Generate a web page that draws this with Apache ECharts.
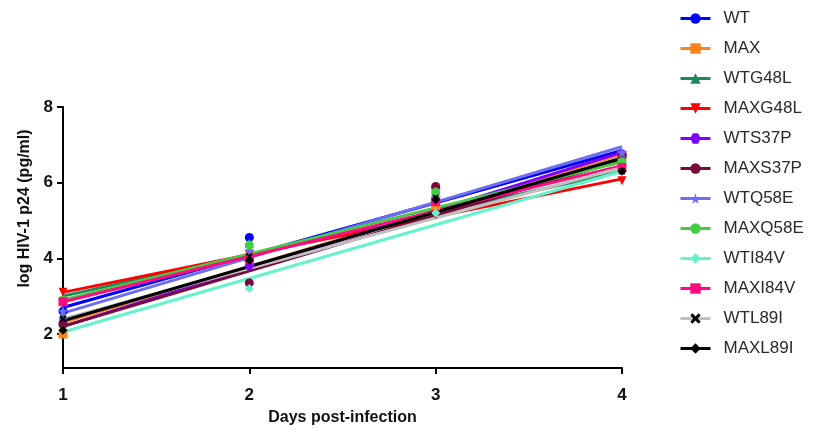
<!DOCTYPE html>
<html>
<head>
<meta charset="utf-8">
<script src="https://cdn.jsdelivr.net/npm/echarts@6/dist/echarts.min.js"></script>
<style>
html,body{margin:0;padding:0;background:#fff;}
#chart{width:817px;height:431px;}
</style>
</head>
<body>
<div id="chart"></div>
<script>
// ---- data ----
const days = [1, 2, 3, 4];
const yTicks = [2, 4, 6, 8];
const seriesNames = ['WT','MAX','WTG48L','MAXG48L','WTS37P','MAXS37P','WTQ58E','MAXQ58E','WTI84V','MAXI84V','WTL89I','MAXL89I'];
// observed values per day (log HIV-1 p24)
const ptsWT      = [2.6, 4.55, 5.5, 6.75];
const ptsMAX     = [2.0, 3.9, 5.4, 6.7];
const ptsWTG48L  = [2.5, 4.4, 5.8, 6.55];
const ptsMAXG48L = [3.1, 4.1, 5.15, 6.05];
const ptsWTS37P  = [2.3, 3.8, 5.85, 6.75];
const ptsMAXS37P = [2.25, 3.35, 5.9, 6.7];
const ptsWTQ58E  = [2.6, 4.2, 5.6, 6.8];
const ptsMAXQ58E = [2.9, 4.35, 5.75, 6.55];
const ptsWTI84V  = [2.1, 3.2, 5.2, 6.35];
const ptsMAXI84V = [2.85, 4.0, 5.5, 6.4];
const ptsWTL89I  = [2.4, 4.05, 5.6, 6.3];
const ptsMAXL89I = [2.1, 3.95, 5.55, 6.3];
// regression line values at day 1 and day 4
const fitStart = [2.7, 2.3, 3.0, 3.1, 2.2, 2.2, 2.55, 2.9, 2.05, 2.85, 2.4, 2.35];
const fitEnd   = [6.85, 6.75, 6.3, 6.1, 6.8, 6.6, 6.95, 6.55, 6.3, 6.45, 6.4, 6.65];
const fitDays = [1, 4];

const allPts = [ptsWT, ptsMAX, ptsWTG48L, ptsMAXG48L, ptsWTS37P, ptsMAXS37P, ptsWTQ58E, ptsMAXQ58E, ptsWTI84V, ptsMAXI84V, ptsWTL89I, ptsMAXL89I];

// ---- styles ----
const lineColors = ['#0000ff','#f7821e','#1e8a5c','#ff0000','#7f00ff','#7a0a3c','#6e6ef0','#44cc44','#66f2cc','#ff0a80','#c0c0c0','#000000'];
const markColors = ['#0000ff','#f7821e','#1e8a5c','#ff0000','#7f00ff','#7a0a3c','#6e6ef0','#44cc44','#66f2cc','#ff0a80','#000000','#000000'];
const hexPath = 'path://M5,0 L15,0 L20,8.66 L15,17.32 L5,17.32 L0,8.66 Z';
const starPath = 'path://M10,0 L12.4,7 L20,7.2 L14,11.8 L16.2,19 L10,14.8 L3.8,19 L6,11.8 L0,7.2 L7.6,7 Z';
const crossPath = 'path://M0,2 L2,0 L5,3 L8,0 L10,2 L7,5 L10,8 L8,10 L5,7 L2,10 L0,8 L3,5 Z';
const symbols = ['circle','rect','triangle','triangle',hexPath,'circle',starPath,'circle','diamond','rect',crossPath,'diamond'];
const rotates = [0,0,0,180,0,0,0,0,0,0,0,0];
const sizes = [9,9,9,9,9,9,11,9,9,9,7,9];

const FONT = '"Liberation Sans", Arial, sans-serif';

const series = [];
seriesNames.forEach((n, i) => {
  series.push({
    name: n, type: 'line',
    data: fitDays.map((d, k) => [d, k === 0 ? fitStart[i] : fitEnd[i]]),
    showSymbol: false,
    symbol: symbols[i], symbolRotate: rotates[i], symbolSize: sizes[i],
    lineStyle: { color: lineColors[i], width: 3 },
    itemStyle: { color: markColors[i] },
    silent: true, animation: false, z: 2
  });
});
seriesNames.forEach((n, i) => {
  series.push({
    name: n, type: 'scatter',
    data: days.map((d, k) => [d, allPts[i][k]]),
    symbol: symbols[i], symbolRotate: rotates[i], symbolSize: sizes[i],
    itemStyle: { color: markColors[i], opacity: 1 },
    animation: false, z: 3
  });
});

const chart = echarts.init(document.getElementById('chart'), null, { renderer: 'canvas' });
chart.setOption({
  backgroundColor: '#ffffff',
  animation: false,
  grid: { left: 63, right: 195, top: 107, bottom: 59, containLabel: false },
  legend: {
    orient: 'vertical', left: 674, top: 5,
    itemWidth: 30, itemHeight: 13, itemGap: 13,
    data: seriesNames,
    lineStyle: { width: 3 },
    textStyle: { fontFamily: FONT, fontSize: 17, color: '#2a2a2a', padding: [0, 0, 0, 8] },
    selectedMode: false
  },
  xAxis: {
    type: 'value', min: 1, max: 4, interval: 1,
    name: 'Days post-infection', nameLocation: 'middle', nameGap: 42,
    nameTextStyle: { fontFamily: FONT, fontSize: 16, fontWeight: 'bold', color: '#111' },
    axisLine: { show: true, lineStyle: { color: '#000', width: 2 } },
    axisTick: { show: true, length: 6, inside: false, lineStyle: { color: '#000', width: 2 } },
    axisLabel: { margin: 19, fontFamily: FONT, fontSize: 17, fontWeight: 'bold', color: '#111' },
    splitLine: { show: false }
  },
  yAxis: {
    type: 'value', min: 1.1, max: 8,
    name: 'log HIV-1 p24 (pg/ml)', nameLocation: 'middle', nameGap: 30, nameRotate: 90,
    nameTextStyle: { fontFamily: FONT, fontSize: 16, fontWeight: 'bold', color: '#111', padding: [0, 0, 0, 58] },
    axisLine: { show: true, lineStyle: { color: '#000', width: 2 } },
    axisTick: { show: true, length: 6, inside: false, customValues: yTicks, lineStyle: { color: '#000', width: 2 } },
    axisLabel: { margin: 10, customValues: yTicks, fontFamily: FONT, fontSize: 17, fontWeight: 'bold', color: '#111' },
    splitLine: { show: false }
  },
  series: series
});
</script>
</body>
</html>
